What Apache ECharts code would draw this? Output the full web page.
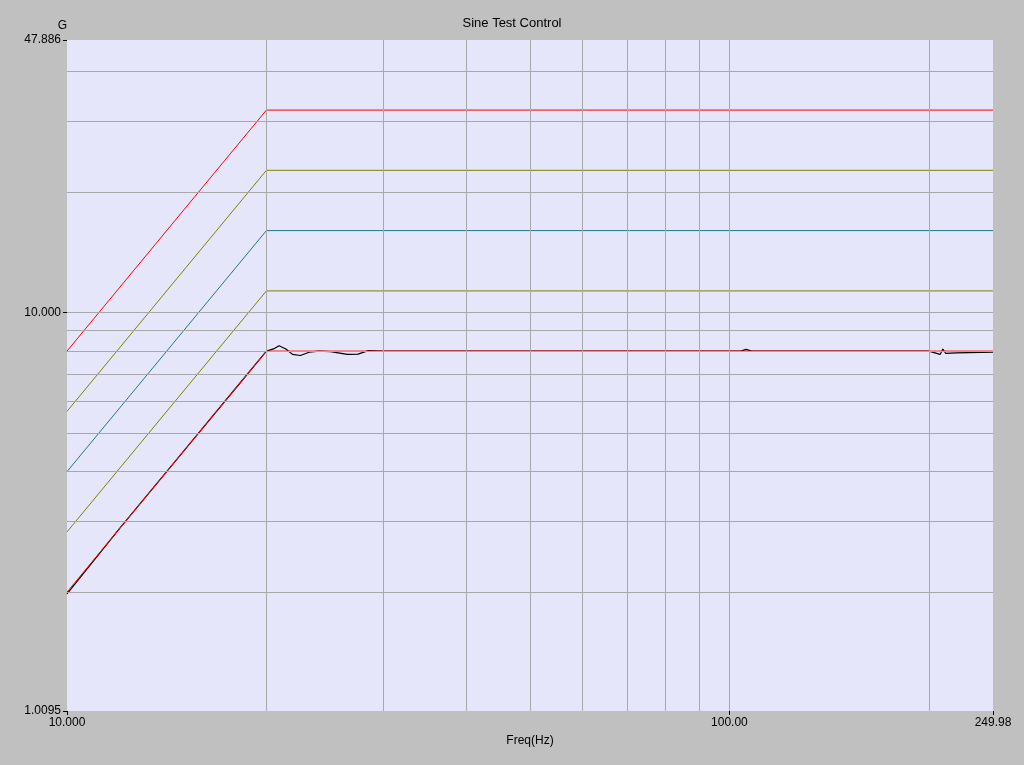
<!DOCTYPE html>
<html><head><meta charset="utf-8">
<script src="https://cdn.jsdelivr.net/npm/echarts@6/dist/echarts.min.js"></script>
<style>html,body{margin:0;padding:0;background:#c0c0c0}#c{width:1024px;height:765px}</style>
</head><body><div id="c"></div>
<script>
const freq = [10, 20, 249.98];
const abortHigh = [8, 32, 32];
const alarmHigh = [5.657, 22.63, 22.63];
const tolHigh = [4, 16, 16];
const tolLow = [2.828, 11.31, 11.31];
const reference = [2, 8, 8];
const controlFreq = [10, 12, 15, 18, 20, 20.5, 20.9, 21.4, 21.9, 22.5, 23.2, 24, 25, 26.5, 27.5, 28.5, 30, 40, 60, 100, 104, 106, 108, 150, 200, 208, 210, 212, 220, 249.98];
const controlVal = [1.98, 2.88, 4.5, 6.48, 8.0, 8.1, 8.25, 8.1, 7.85, 7.8, 7.95, 8.0, 7.98, 7.85, 7.86, 8.02, 8.0, 8.0, 8.0, 8.0, 8.0, 8.08, 8.0, 8.0, 8.0, 7.85, 8.1, 7.9, 7.92, 7.95];
const xGrid = [20, 30, 40, 50, 60, 70, 80, 90, 100, 200];
const yGrid = [2, 3, 4, 5, 6, 7, 8, 9, 10, 20, 30, 40];
const yMin = 1.0095, yMax = 47.886, xMin = 10, xMax = 249.98;

const pair = (xs, ys) => xs.map((x, i) => [x, ys[i]]);
const gl = {color: '#a8a8a8', width: 1, type: 'solid'};
const mk = (name, ys, color) => ({type: 'line', name, data: pair(freq, ys), symbol: 'none', lineStyle: {color, width: 1}, animation: false, silent: true});

const chart = echarts.init(document.getElementById('c'));
chart.setOption({
  backgroundColor: '#c0c0c0',
  animation: false,
  title: {text: 'Sine Test Control', left: 'center', top: 12, textStyle: {fontFamily: 'Liberation Sans', fontSize: 13, fontWeight: 'normal', color: '#000'}},
  grid: {left: 67, right: 31, top: 40, bottom: 54, show: true, backgroundColor: '#e6e6fa', borderWidth: 0},
  xAxis: {type: 'log', logBase: 10, min: xMin, max: xMax, name: 'Freq(Hz)', nameLocation: 'middle', nameGap: 24,
    nameTextStyle: {fontFamily: 'Liberation Sans', fontSize: 12, color: '#000'},
    axisLine: {show: false}, splitLine: {show: false}, minorTick: {show: false},
    axisTick: {show: true, length: 4, lineStyle: {color: '#000'}},
    axisLabel: {fontFamily: 'Liberation Sans', fontSize: 12, color: '#000', margin: 6, showMinLabel: true, showMaxLabel: true,
      formatter: v => Math.abs(v - 10) < 0.01 ? '10.000' : Math.abs(v - 100) < 0.1 ? '100.00' : Math.abs(v - xMax) < 0.1 ? '249.98' : ''}},
  yAxis: {type: 'log', logBase: 10, min: yMin, max: yMax, name: 'G', nameLocation: 'end', nameGap: 8,
    nameTextStyle: {fontFamily: 'Liberation Sans', fontSize: 12, color: '#000', align: 'right', padding: [0, 0, 0, 0]},
    axisLine: {show: false}, splitLine: {show: false},
    axisTick: {show: true, length: 4, lineStyle: {color: '#000'}},
    axisLabel: {fontFamily: 'Liberation Sans', fontSize: 12, color: '#000', margin: 6, showMinLabel: true, showMaxLabel: true,
      formatter: v => Math.abs(v - 10) < 0.01 ? '10.000' : Math.abs(v - yMin) < 0.01 ? '1.0095' : Math.abs(v - yMax) < 0.1 ? '47.886' : ''}},
  series: [
    {type: 'line', data: [], symbol: 'none', silent: true,
      markLine: {silent: true, symbol: 'none', label: {show: false}, lineStyle: gl, animation: false,
        data: xGrid.map(x => ({xAxis: x})).concat(yGrid.map(y => ({yAxis: y})))}},
    mk('abortHigh', abortHigh, '#ff0000'),
    mk('alarmHigh', alarmHigh, '#808000'),
    mk('tolHigh', tolHigh, '#207888'),
    mk('tolLow', tolLow, '#808000'),
    {type: 'line', name: 'control', data: pair(controlFreq, controlVal), symbol: 'none', lineStyle: {color: '#000', width: 1.2}, silent: true},
    mk('reference', reference, '#ff0000')
  ]
});
</script></body></html>
